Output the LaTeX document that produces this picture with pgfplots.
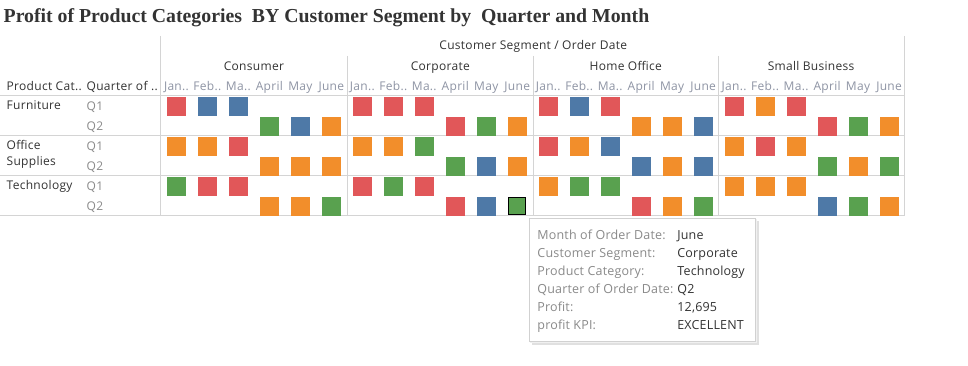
\documentclass[border=0pt]{standalone}
\usepackage{fontspec}
\setmainfont{Open Sans}[LetterSpace=2.5]
\newfontfamily\tipfont{Open Sans}[LetterSpace=1.5]
\newfontfamily\titlefont{Liberation Serif}
\usepackage{pgfplots}
\pgfplotsset{compat=1.18}
\definecolor{kred}{HTML}{E15759}
\definecolor{kblue}{HTML}{4E79A7}
\definecolor{kgreen}{HTML}{59A14F}
\definecolor{korange}{HTML}{F28E2B}
\definecolor{gridc}{HTML}{D4D4D4}
\definecolor{darktxt}{HTML}{333333}
\definecolor{graytxt}{HTML}{8A8A8A}
\definecolor{monthtxt}{HTML}{8E94A4}
% column index c (0..23: 4 segments x 6 months), row index r (0..5: 3 categories x 2 quarters)
\begin{document}
\begin{tikzpicture}
\begin{axis}[scale only axis, width=968pt, height=366pt,
  xmin=0, xmax=968, ymin=0, ymax=366, y dir=reverse,
  hide axis, clip=false,
  every axis plot/.append style={only marks, mark=square*, mark size=9pt},
  ]
\path[fill=white] (rel axis cs:0,0) rectangle (rel axis cs:1,1);
% grid
\draw[gridc, line width=1pt] (axis cs:0,96) -- (axis cs:904,96);
\draw[gridc, line width=1pt] (axis cs:0,136) -- (axis cs:904,136);
\draw[gridc, line width=1pt] (axis cs:0,176) -- (axis cs:904,176);
\draw[gridc, line width=1pt] (axis cs:0,216) -- (axis cs:904,216);
\draw[gridc, line width=1pt] (axis cs:160,36) -- (axis cs:160,216);
\draw[gridc, line width=1pt] (axis cs:904,36) -- (axis cs:904,216);
\draw[gridc, line width=1pt] (axis cs:347,56) -- (axis cs:347,216);
\draw[gridc, line width=1pt] (axis cs:533,56) -- (axis cs:533,216);
\draw[gridc, line width=1pt] (axis cs:718,56) -- (axis cs:718,216);
% squares
\addplot[mark options={draw=kred, fill=kred}] table[row sep=\\, x expr=176+31*\thisrow{c}, y expr=106+20*\thisrow{r}] {
c r\\ 0 0\\ 2 2\\ 1 4\\ 2 4\\
6 0\\ 7 0\\ 8 0\\ 9 1\\ 6 4\\ 8 4\\ 9 5\\
12 0\\ 14 0\\ 12 2\\ 15 5\\
18 0\\ 20 0\\ 21 1\\ 19 2\\
};
\addplot[mark options={draw=kblue, fill=kblue}] table[row sep=\\, x expr=176+31*\thisrow{c}, y expr=106+20*\thisrow{r}] {
c r\\ 1 0\\ 2 0\\ 4 1\\
10 3\\ 10 5\\
13 0\\ 17 1\\ 14 2\\ 15 3\\ 17 3\\
21 5\\
};
\addplot[mark options={draw=kgreen, fill=kgreen}] table[row sep=\\, x expr=176+31*\thisrow{c}, y expr=106+20*\thisrow{r}] {
c r\\ 3 1\\ 0 4\\ 5 5\\
10 1\\ 8 2\\ 9 3\\ 7 4\\
13 4\\ 14 4\\ 17 5\\
22 1\\ 21 3\\ 23 3\\ 22 5\\
};
\addplot[mark options={draw=korange, fill=korange}] table[row sep=\\, x expr=176+31*\thisrow{c}, y expr=106+20*\thisrow{r}] {
c r\\ 5 1\\ 0 2\\ 1 2\\ 3 3\\ 4 3\\ 5 3\\ 3 5\\ 4 5\\
11 1\\ 6 2\\ 7 2\\ 11 3\\
15 1\\ 16 1\\ 13 2\\ 16 3\\ 12 4\\ 16 5\\
19 0\\ 23 1\\ 18 2\\ 20 2\\ 22 3\\ 18 4\\ 19 4\\ 20 4\\ 23 5\\
};
% highlighted mark
\addplot[mark options={draw=black, fill=kgreen, line width=1.2pt}, mark size=8.4pt] table[row sep=\\, x expr=176+31*\thisrow{c}, y expr=106+20*\thisrow{r}] {
c r\\ 11 5\\
};
% title
\node[anchor=base west, inner sep=0pt, font=\titlefont\bfseries\fontsize{19.8}{22}\selectfont, text=darktxt] at (axis cs:3,23) {Profit of Product Categories\ \ BY Customer Segment by\ \ Quarter and Month};
% headers
\begin{scope}[every node/.style={font=\fontsize{12}{14}\selectfont, inner sep=0pt, anchor=base}]
\node[text=darktxt] at (axis cs:533,50) {Customer Segment / Order Date};
\node[text=darktxt] at (axis cs:253.5,71) {Consumer};
\node[text=darktxt] at (axis cs:440,71) {Corporate};
\node[text=darktxt] at (axis cs:625.5,71) {Home Office};
\node[text=darktxt] at (axis cs:811,71) {Small Business};
\pgfplotsinvokeforeach{176,362,548,734}{
  \node[text=monthtxt] at (axis cs:#1,91) {Jan..};
  \node[text=monthtxt] at (axis cs:#1+31,91) {Feb..};
  \node[text=monthtxt] at (axis cs:#1+62,91) {Ma..};
  \node[text=monthtxt] at (axis cs:#1+93,91) {April};
  \node[text=monthtxt] at (axis cs:#1+124,91) {May};
  \node[text=monthtxt] at (axis cs:#1+155,91) {June};
}
\node[anchor=base west, text=darktxt] at (axis cs:6,91) {Product Cat..};
\node[anchor=base west, text=darktxt] at (axis cs:86,91) {Quarter of ..};
\node[anchor=base west, text=darktxt] at (axis cs:6,110) {Furniture};
\node[anchor=base west, text=darktxt] at (axis cs:6,149.5) {Office};
\node[anchor=base west, text=darktxt] at (axis cs:6,166) {Supplies};
\node[anchor=base west, text=darktxt] at (axis cs:6,190) {Technology};
\node[anchor=base west, text=graytxt] at (axis cs:86,111) {Q1};
\node[anchor=base west, text=graytxt] at (axis cs:86,131) {Q2};
\node[anchor=base west, text=graytxt] at (axis cs:86,150.7) {Q1};
\node[anchor=base west, text=graytxt] at (axis cs:86,170.7) {Q2};
\node[anchor=base west, text=graytxt] at (axis cs:86,190.7) {Q1};
\node[anchor=base west, text=graytxt] at (axis cs:86,210.5) {Q2};
\end{scope}
% tooltip
\fill[black!12] (axis cs:532,221) rectangle (axis cs:759,345);
\fill[black!6] (axis cs:530,219) rectangle (axis cs:757,343);
\draw[fill=white, draw=black!18] (axis cs:529,218) rectangle (axis cs:755,341);
\begin{scope}[every node/.style={font=\tipfont\fontsize{12.5}{14}\selectfont, anchor=base west, inner sep=0pt}]
\node[text=graytxt] at (axis cs:537,240) {Month of Order Date:};
\node[text=graytxt] at (axis cs:537,258) {Customer Segment:};
\node[text=graytxt] at (axis cs:537,276) {Product Category:};
\node[text=graytxt] at (axis cs:537,294) {Quarter of Order Date:};
\node[text=graytxt] at (axis cs:537,312) {Profit:};
\node[text=graytxt] at (axis cs:537,330) {profit KPI:};
\node[text=darktxt] at (axis cs:677,240) {June};
\node[text=darktxt] at (axis cs:677,258) {Corporate};
\node[text=darktxt] at (axis cs:677,276) {Technology};
\node[text=darktxt] at (axis cs:677,294) {Q2};
\node[text=darktxt] at (axis cs:677,312) {12,695};
\node[text=darktxt] at (axis cs:677,330) {EXCELLENT};
\end{scope}
\end{axis}
\end{tikzpicture}
\end{document}
